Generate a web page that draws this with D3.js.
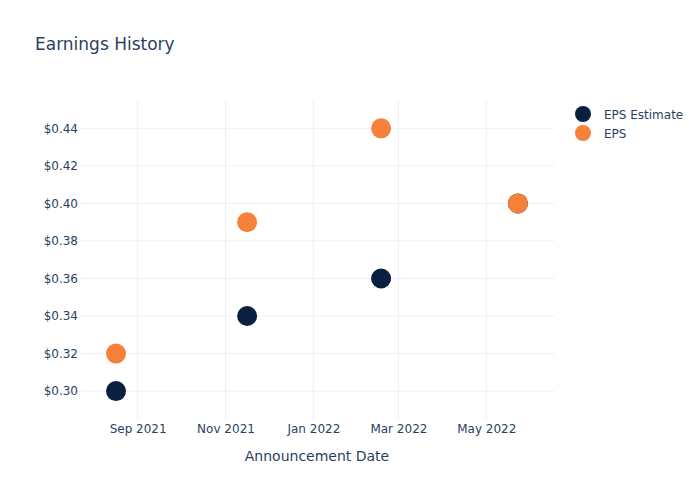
<!DOCTYPE html>
<html>
<head>
<meta charset="utf-8">
<script src="https://cdn.jsdelivr.net/npm/d3@7"></script>
<style>
  html, body { margin: 0; padding: 0; background: #fff; }
  svg text { font-family: "DejaVu Sans", verdana, arial, sans-serif; fill: #2a3f5f; }
</style>
</head>
<body>
<div id="chart"></div>
<script>
// ---- data ----
const dates = ["2021-08-17", "2021-11-16", "2022-02-17", "2022-05-23"];
const epsEstimate = [0.30, 0.34, 0.36, 0.40];
const eps = [0.32, 0.39, 0.44, 0.40];
const seriesNames = ["EPS Estimate", "EPS"];
const seriesColors = ["#0b1f41", "#f5813a"];
const xTickDates = ["2021-09-01", "2021-11-01", "2022-01-01", "2022-03-01", "2022-05-01"];
const yTicks = [0.30, 0.32, 0.34, 0.36, 0.38, 0.40, 0.42, 0.44];
const xDomain = ["2021-07-23", "2022-06-17"];
const yDomain = [0.2846, 0.4551];

const W = 700, H = 500;
const m = { l: 80, r: 146, t: 100, b: 80 };
const FONT = "'DejaVu Sans', verdana, arial, sans-serif";
const parse = d3.utcParse("%Y-%m-%d");

const svg = d3.select("#chart").append("svg").attr("width", W).attr("height", H);

const x = d3.scaleUtc().domain(xDomain.map(parse)).range([m.l, W - m.r]);
const y = d3.scaleLinear().domain(yDomain).range([H - m.b, m.t]);

// grid
svg.append("g").selectAll("line").data(xTickDates.map(parse)).join("line")
  .attr("x1", d => x(d)).attr("x2", d => x(d))
  .attr("y1", m.t).attr("y2", H - m.b)
  .attr("stroke", "#ebf0f8").attr("stroke-width", 1);
svg.append("g").selectAll("line").data(yTicks).join("line")
  .attr("x1", m.l).attr("x2", W - m.r)
  .attr("y1", d => y(d)).attr("y2", d => y(d))
  .attr("stroke", "#ebf0f8").attr("stroke-width", 1);

// axes
const xAxis = d3.axisBottom(x).tickValues(xTickDates.map(parse))
  .tickFormat(d3.utcFormat("%b %Y")).tickSize(0).tickPadding(4);
const gx = svg.append("g").attr("transform", `translate(0,${H - m.b})`).call(xAxis);
gx.select(".domain").remove();
gx.selectAll("text").attr("font-size", 12).style("fill", "#2a3f5f").attr("font-family", FONT);

const yAxis = d3.axisLeft(y).tickValues(yTicks)
  .tickFormat(d => "$" + d3.format(".2f")(d)).tickSize(0).tickPadding(2);
const gy = svg.append("g").attr("transform", `translate(${m.l},0)`).call(yAxis);
gy.select(".domain").remove();
gy.selectAll("text").attr("font-size", 12).style("fill", "#2a3f5f").attr("font-family", FONT);

// points
const series = [epsEstimate, eps];
series.forEach((vals, si) => {
  svg.append("g").selectAll("circle").data(vals).join("circle")
    .attr("cx", (d, i) => x(parse(dates[i])))
    .attr("cy", d => y(d))
    .attr("r", 10)
    .attr("fill", seriesColors[si]);
});

// title
svg.append("text").attr("x", 35).attr("y", 50).attr("font-size", 17)
  .text("Earnings History");

// axis title
svg.append("text").attr("x", (m.l + W - m.r) / 2).attr("y", 461)
  .attr("text-anchor", "middle").attr("font-size", 14)
  .text("Announcement Date");

// legend
const lg = svg.append("g").attr("transform", "translate(583,114)");
seriesNames.forEach((n, i) => {
  lg.append("circle").attr("cx", 0).attr("cy", i * 19).attr("r", 8)
    .attr("fill", seriesColors[i]);
  lg.append("text").attr("x", 21).attr("y", i * 19 + 4.5).attr("font-size", 12).text(n);
});
</script>
</body>
</html>
